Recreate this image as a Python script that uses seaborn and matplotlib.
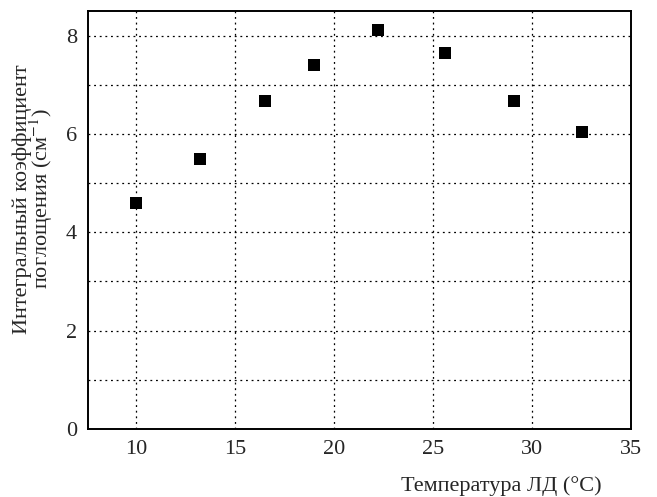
import matplotlib
matplotlib.use("Agg")
import matplotlib.pyplot as plt
import seaborn as sns
import pandas as pd

temperature = [10.0, 13.2, 16.5, 19.0, 22.2, 25.6, 29.1, 32.5]
coefficient = [4.60, 5.50, 6.67, 7.40, 8.11, 7.65, 6.67, 6.03]

x_ticks = [10, 15, 20, 25, 30, 35]
y_ticks = [0, 2, 4, 6, 8]

sns.set_style("white")
plt.rcParams['font.family'] = ['Liberation Serif', 'DejaVu Serif']
plt.rcParams['mathtext.fontset'] = 'stix'

df = pd.DataFrame({"T": temperature, "K": coefficient})

fig = plt.figure(figsize=(6.57, 4.97), dpi=100)
ax = fig.add_axes([88/657, 1-429/497, (631-88)/657, (429-11)/497])

sns.scatterplot(data=df, x="T", y="K", marker="s", s=64, color="black",
                edgecolor="black", linewidth=0, ax=ax, zorder=3)

ax.set_xlim(7.55, 35)
ax.set_ylim(0, 8.5)
ax.set_xticks(x_ticks)
ax.set_yticks(y_ticks)
ax.tick_params(axis='x', length=0, labelsize=16, pad=8)
ax.tick_params(axis='y', length=0, labelsize=16, pad=8)

for v in [10, 15, 20, 25, 30]:
    ax.axvline(v, color="black", linestyle=(0, (1.5, 3)), linewidth=0.9, zorder=1)
for v in range(1, 9):
    ax.axhline(v, color="black", linestyle=(0, (1.5, 3)), linewidth=0.9, zorder=1)

for sp in ax.spines.values():
    sp.set_color("black")
    sp.set_linewidth(1.4)

ax.set_xlabel("Температура ЛД (°C)", fontsize=16)
ax.xaxis.set_label_coords(0.762, -0.112)
ax.set_ylabel("Интегральный коэффициент\nпоглощения (см$^{-1}$)", fontsize=16,
              linespacing=0.82)
ax.yaxis.set_label_coords(-0.06, 0.55)

fig.savefig("out.png", dpi=100)
